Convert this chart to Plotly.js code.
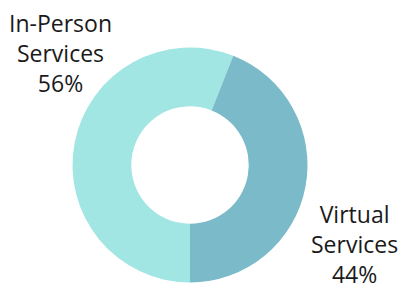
<!DOCTYPE html>
<html>
<head>
<meta charset="utf-8">
<script src="https://cdn.plot.ly/plotly-3.0.1.min.js"></script>
<style>html,body{margin:0;padding:0;background:#fff;}#chart{width:406px;height:292px;}</style>
</head>
<body>
<div id="chart"></div>
<script>
const categories = ["In-Person Services", "Virtual Services"];
const labelLines = [["In-Person", "Services"], ["Virtual", "Services"]];
const values = [56, 44];
const colors = ["#a2e6e3", "#7bbac9"];

const total = values.reduce((a, b) => a + b, 0);
const labelText = labelLines.map((l, i) => l.join("<br>") + "<br>" + Math.round(values[i] / total * 100) + "%");

const trace = {
  type: "pie",
  labels: categories,
  values: values,
  hole: 0.5,
  sort: false,
  direction: "clockwise",
  rotation: 180,
  marker: { colors: colors, line: { width: 0 } },
  textinfo: "none",
  hoverinfo: "none",
  showlegend: false,
  domain: { x: [0.1786, 0.7574], y: [0.0325, 0.8373] }
};

const font = { family: "Open Sans, sans-serif", size: 23, color: "#1a1a1a" };
const layout = {
  width: 406, height: 292,
  margin: { l: 0, r: 0, t: 0, b: 0 },
  paper_bgcolor: "#fff",
  showlegend: false,
  annotations: [
    { text: labelText[0], xref: "paper", yref: "paper", x: 0.148, y: 0.82, xanchor: "center", yanchor: "middle", showarrow: false, align: "center", font: font },
    { text: labelText[1], xref: "paper", yref: "paper", x: 0.874, y: 0.165, xanchor: "center", yanchor: "middle", showarrow: false, align: "center", font: font }
  ]
};

Plotly.newPlot("chart", [trace], layout, { staticPlot: true, displayModeBar: false });
</script>
</body>
</html>
